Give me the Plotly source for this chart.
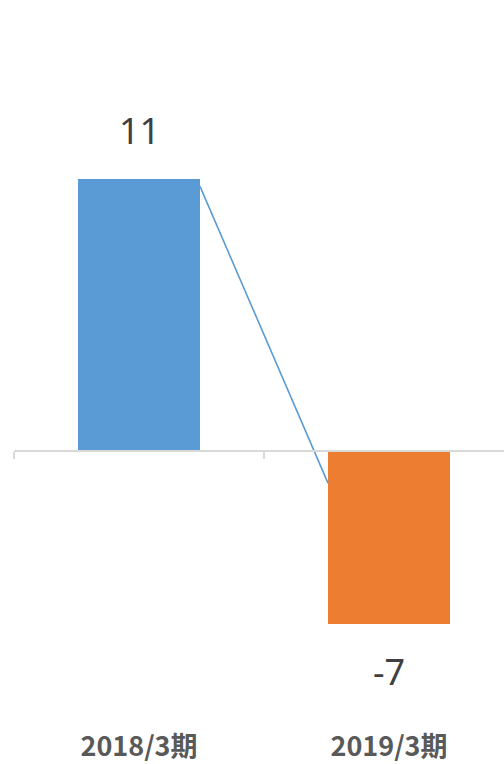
import plotly.graph_objects as go

categories = ["2018/3期", "2019/3期"]
values = [11, -7]
bar_colors = ["#5B9BD5", "#ED7D31"]
connector_values = [10.7, -1.3]

BAR_W = 0.488
x_pos = list(range(len(categories)))

fig = go.Figure()
fig.add_trace(go.Bar(x=x_pos, y=values, width=BAR_W, marker=dict(color=bar_colors, line=dict(width=0)),
                     showlegend=False, hoverinfo="skip"))
fig.add_trace(go.Scatter(x=[x_pos[0] + BAR_W / 2, x_pos[1] - BAR_W / 2], y=connector_values,
                         mode="lines", line=dict(color="#5B9BD5", width=1.6), showlegend=False, hoverinfo="skip"))
# dummy trace for axis carrying the zero line ticks
fig.add_trace(go.Scatter(x=x_pos, y=[None, None], xaxis="x2", showlegend=False, hoverinfo="skip"))

for xi, v in zip(x_pos, values):
    fig.add_annotation(x=xi, y=v, text=str(v), showarrow=False,
                       yshift=48 if v > 0 else -47,
                       font=dict(family="Noto Sans", size=36, color="#404040"))

H = 764
mt, mb = 0, 44
plot_h = H - mt - mb
px_per_unit = 24.73
zero_px = 451
ytop = (zero_px - mt) / px_per_unit
ybot = -(H - mb - zero_px) / px_per_unit
xrng = [-0.5, -0.5 + (504 - 14) / 250]

fig.update_layout(
    width=504, height=H,
    margin=dict(l=14, r=0, t=mt, b=mb),
    paper_bgcolor="white", plot_bgcolor="white",
    xaxis=dict(range=xrng, tickvals=x_pos, ticktext=categories, showline=False, showgrid=False,
               zeroline=False, ticks="", ticklabelstandoff=8,
               tickfont=dict(family="Noto Sans CJK JP", size=27, color="#595959", weight="bold")),
    xaxis2=dict(range=xrng, overlaying="x", anchor="free",
                position=(H - mb - zero_px) / plot_h, side="bottom",
                tickvals=[-0.5, 0.5, 1.5], ticks="outside", ticklen=7, tickwidth=2, tickcolor="#D9D9D9",
                showticklabels=False, showline=True, linecolor="#D9D9D9", linewidth=2,
                showgrid=False, zeroline=False),
    yaxis=dict(range=[ybot, ytop], visible=False, showgrid=False, zeroline=False),
    bargap=0,
)

fig.write_html("out.html")
